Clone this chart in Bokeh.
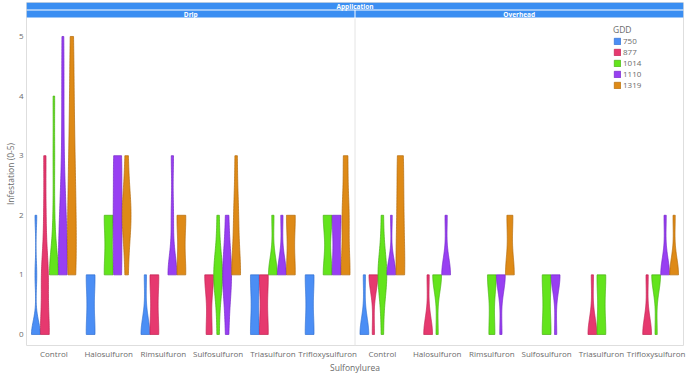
import numpy as np
from bokeh.plotting import figure
from bokeh.models import Range1d, FixedTicker, Legend, LegendItem, CustomJSTickFormatter
from bokeh.core.properties import value
from bokeh.embed import file_html
from bokeh.resources import INLINE

# ---------------- data ----------------
applications = ["Drip", "Overhead"]
sulfonylureas = ["Control", "Halosulfuron", "Rimsulfuron", "Sulfosulfuron",
                 "Triasulfuron", "Trifloxysulfuron"]
gdd_levels = ["750", "877", "1014", "1110", "1319"]
infestation_levels = [0, 1, 2, 3, 4, 5]

# number of observations at infestation 0..5, one row per GDD (None = no data)
drip_control = [[5, 1, 1, 0, 0, 0], [4, 3, 1, 1, 0, 0], [0, 6, 1, 1, 1, 0],
                [0, 5, 3, 1, 1, 1], [0, 5, 4, 3, 2, 2]]
drip_halosulfuron = [[2, 2, 0, 0, 0, 0], None, [0, 2, 2, 0, 0, 0],
                     [0, 3, 3, 3, 0, 0], [0, 1, 3, 1, 0, 0]]
drip_rimsulfuron = [[4, 1, 0, 0, 0, 0], [2, 2, 0, 0, 0, 0], None,
                    [0, 4, 1, 1, 0, 0], [0, 2, 2, 0, 0, 0]]
drip_sulfosulfuron = [None, [2, 3, 0, 0, 0, 0], [1, 4, 1, 0, 0, 0],
                      [1, 3, 1, 0, 0, 0], [0, 4, 2, 1, 0, 0]]
drip_triasulfuron = [[2, 2, 0, 0, 0, 0], [2, 2, 0, 0, 0, 0], [0, 4, 1, 0, 0, 0],
                     [0, 4, 1, 0, 0, 0], [0, 2, 2, 0, 0, 0]]
drip_trifloxysulfuron = [[2, 2, 0, 0, 0, 0], None, [0, 3, 3, 0, 0, 0],
                         [0, 2, 2, 0, 0, 0], [0, 4, 3, 2, 0, 0]]

overhead_control = [[4, 1, 0, 0, 0, 0], [1, 4, 0, 0, 0, 0], [1, 4, 1, 0, 0, 0],
                    [0, 5, 1, 0, 0, 0], [0, 3, 2, 2, 0, 0]]
overhead_halosulfuron = [None, [4, 1, 0, 0, 0, 0], [1, 4, 0, 0, 0, 0],
                         [0, 4, 1, 0, 0, 0], None]
overhead_rimsulfuron = [None, None, [2, 3, 0, 0, 0, 0],
                        [1, 4, 0, 0, 0, 0], [0, 3, 2, 0, 0, 0]]
overhead_sulfosulfuron = [None, None, [2, 2, 0, 0, 0, 0],
                          [1, 4, 0, 0, 0, 0], None]
overhead_triasulfuron = [None, [4, 1, 0, 0, 0, 0], [2, 2, 0, 0, 0, 0], None, None]
overhead_trifloxysulfuron = [None, [4, 1, 0, 0, 0, 0], [1, 4, 0, 0, 0, 0],
                             [0, 4, 1, 0, 0, 0], [0, 4, 1, 0, 0, 0]]

counts = {
    "Drip": [drip_control, drip_halosulfuron, drip_rimsulfuron,
             drip_sulfosulfuron, drip_triasulfuron, drip_trifloxysulfuron],
    "Overhead": [overhead_control, overhead_halosulfuron, overhead_rimsulfuron,
                 overhead_sulfosulfuron, overhead_triasulfuron, overhead_trifloxysulfuron],
}

gdd_fill = ["#4b8ef5", "#e6396f", "#63e41c", "#983ff2", "#de8a17"]
gdd_line = ["#2f6fd0", "#c02050", "#46b010", "#7425c8", "#b56a08"]

# ---------------- layout constants ----------------
FONT = "Open Sans"
TXT = "#6b6b6b"
LEFT, RIGHT, TOP, BOTTOM = 26, 10, 2, 28
FW, FH = 693 - LEFT - RIGHT, 373 - TOP - BOTTOM
Y0, Y1 = -0.185, 5.570
PPU = FH / (Y1 - Y0)
NCAT = len(applications) * len(sulfonylureas)
XPX = FW / NCAT
SLOT = 9.0 / XPX          # dodge between GDD violins (units)
HALF = 4.4 / XPX          # max half width of a violin (units)
STRIP_BLUE = "#3a8ef2"


def py(px_from_top):
    return Y1 - px_from_top / PPU


def bw_nrd0(x):
    n = len(x)
    sd = np.std(x, ddof=1)
    q75, q25 = np.percentile(x, [75, 25])
    lo = min(sd, (q75 - q25) / 1.349)
    if lo == 0:
        lo = sd if sd > 0 else 1.0
    return 0.9 * lo * n ** -0.2


def violin(center, cnt):
    x = np.repeat(np.array(infestation_levels, dtype=float), cnt)
    h = bw_nrd0(x)
    grid = np.linspace(x.min(), x.max(), 80)
    dens = np.exp(-0.5 * ((grid[:, None] - x[None, :]) / h) ** 2).sum(axis=1)
    w = dens / dens.max() * HALF
    xs = np.concatenate([center + w, (center - w)[::-1]])
    ys = np.concatenate([grid, grid[::-1]])
    return list(xs), list(ys)


p = figure(frame_width=FW, frame_height=FH, output_backend="svg", toolbar_location=None,
           x_range=Range1d(0, NCAT), y_range=Range1d(Y0, Y1),
           min_border_left=LEFT, min_border_right=RIGHT, min_border_top=TOP,
           min_border_bottom=BOTTOM,
           background_fill_color="white", border_fill_color="white")
p.grid.visible = False
p.outline_line_color = "#dedede"
p.outline_line_width = 1

half_n = len(sulfonylureas)
# panel separator
p.segment(x0=[half_n], y0=[Y0], x1=[half_n], y1=[py(16)],
          line_color="#e4e4e4", line_width=1)

# violins
renderers = []
for k, g in enumerate(gdd_levels):
    xs_all, ys_all = [], []
    for a, app in enumerate(applications):
        for s, _ in enumerate(sulfonylureas):
            cnt = counts[app][s][k]
            if cnt is None:
                continue
            center = a * half_n + s + 0.5 + (k - 2) * SLOT
            xs, ys = violin(center, cnt)
            xs_all.append(xs)
            ys_all.append(ys)
    r = p.patches(xs_all, ys_all, fill_color=gdd_fill[k], line_color=gdd_line[k],
                  line_width=0.7)
    renderers.append(r)

# facet strips
gap = 0.5 / XPX
p.quad(left=[0], right=[NCAT], top=[py(0)], bottom=[py(7)],
       fill_color=STRIP_BLUE, line_color=None)
p.quad(left=[0, half_n + gap], right=[half_n - gap, NCAT], top=[py(8), py(8)],
       bottom=[py(15), py(15)], fill_color=STRIP_BLUE, line_color=None)
p.text(x=[NCAT / 2], y=[py(3.6)], text=["Application"], text_font=value(FONT),
       text_font_size="6.5px", text_font_style="bold", text_color="white",
       text_align="center", text_baseline="middle")
p.text(x=[half_n / 2, half_n + half_n / 2], y=[py(11.6), py(11.6)], text=applications,
       text_font=value(FONT), text_font_size="6.5px", text_font_style="bold",
       text_color="white", text_align="center", text_baseline="middle")

# axes
p.yaxis.ticker = FixedTicker(ticks=infestation_levels)
p.yaxis.axis_label = "Infestation (0-5)"
p.xaxis.axis_label = "Sulfonylurea"
p.xaxis.ticker = FixedTicker(ticks=[i + 0.5 for i in range(NCAT)])
p.xaxis.formatter = CustomJSTickFormatter(
    args=dict(names=sulfonylureas * len(applications)),
    code="const i = Math.floor(tick); return (i >= 0 && i < names.length) ? names[i] : '';")
for ax in (p.xaxis[0], p.yaxis[0]):
    ax.axis_line_color = None
    ax.major_tick_line_color = None
    ax.minor_tick_line_color = None
    ax.major_tick_out = 0
    ax.major_tick_in = 0
    ax.major_label_text_font = FONT
    ax.major_label_text_font_size = "8px"
    ax.major_label_text_color = TXT
    ax.axis_label_text_font = FONT
    ax.axis_label_text_font_size = "8.5px"
    ax.axis_label_text_color = TXT
    ax.axis_label_text_font_style = "normal"
p.xaxis.major_label_standoff = 2
p.xaxis.axis_label_standoff = 0
p.yaxis.major_label_standoff = 3
p.yaxis.axis_label_standoff = 0

legend = Legend(items=[LegendItem(label=g, renderers=[r]) for g, r in zip(gdd_levels, renderers)],
                location=(587, 255), title="GDD", title_text_font=FONT,
                title_text_font_size="8.5px", title_text_color=TXT, title_text_font_style="normal",
                label_text_font=FONT, label_text_font_size="8px", label_text_color=TXT,
                glyph_width=8, glyph_height=8, label_height=8, spacing=-3, padding=0, margin=0,
                label_standoff=2, title_standoff=0,
                border_line_color=None, background_fill_alpha=0)
p.add_layout(legend)

open("out.html", "w").write(file_html(p, INLINE))
